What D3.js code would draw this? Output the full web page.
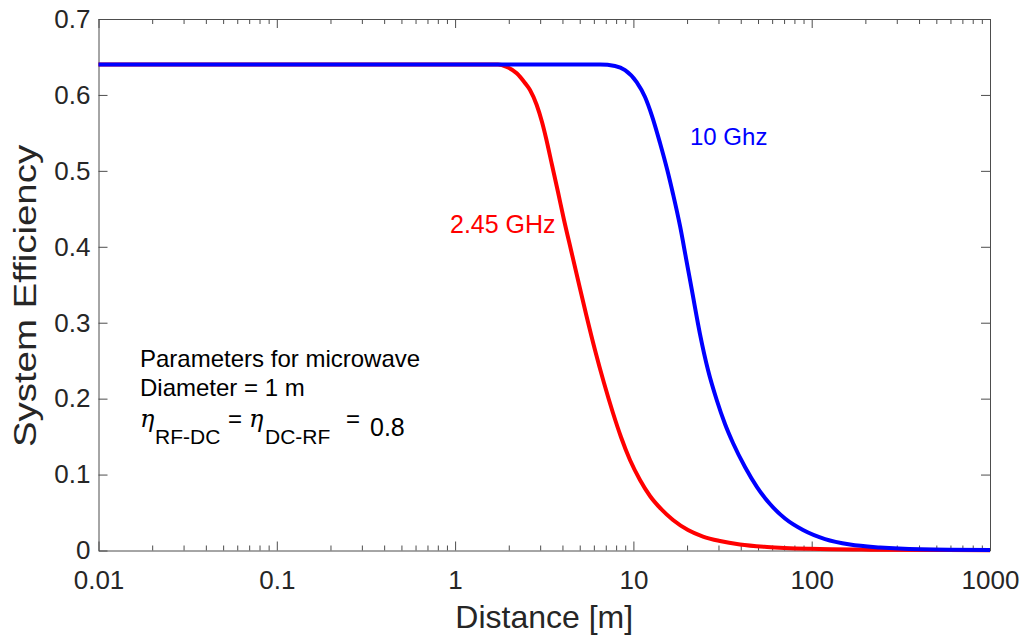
<!DOCTYPE html>
<html>
<head>
<meta charset="utf-8">
<script src="https://cdn.jsdelivr.net/npm/d3@7"></script>
<style>
  html, body { margin: 0; padding: 0; background: #ffffff; }
  svg { display: block; font-family: "Liberation Sans", Arial, Helvetica, sans-serif; }
</style>
</head>
<body>
<svg id="chart" width="1025" height="636"></svg>
<script>
// Distance [m] and system efficiency for the two carrier frequencies
const distance245 = [0.01, 1.74, 1.93, 2.216, 2.466, 2.631, 2.869, 3.072, 3.235, 3.496, 3.777, 4.082, 4.467, 4.89, 5.424, 6.089, 6.842, 7.683, 8.518, 9.57, 10.89, 12.39, 14.29, 16.68, 20.24, 24.57, 30.59, 39.62, 56.15, 97.8, 212.3, 1000];
const efficiency245 = [0.64, 0.64, 0.6374, 0.6285, 0.6157, 0.6065, 0.5867, 0.5643, 0.5433, 0.5077, 0.4721, 0.4353, 0.3958, 0.3563, 0.3115, 0.2641, 0.2206, 0.1811, 0.1495, 0.1192, 0.0929, 0.0718, 0.0547, 0.0402, 0.027, 0.0184, 0.0125, 0.0079, 0.0046, 0.0022, 0.0011, 0.0004];

const distance10 = [0.01, 6.5, 7.885, 8.973, 10.43, 11.62, 12.72, 14.1, 15.44, 16.68, 18.26, 19.72, 21.32, 23.63, 26.21, 29.33, 32.64, 36.19, 42.26, 49.35, 58.37, 70.85, 89.39, 118.8, 164.0, 241.6, 405.1, 1000];
const efficiency10 = [0.64, 0.64, 0.6381, 0.6328, 0.617, 0.5973, 0.5722, 0.5367, 0.5024, 0.4695, 0.4274, 0.3852, 0.3418, 0.2851, 0.2377, 0.1982, 0.1666, 0.1416, 0.11, 0.0836, 0.0612, 0.0421, 0.027, 0.0151, 0.0079, 0.004, 0.0017, 0.0008];

const xMajorTicks = [0.01, 0.1, 1, 10, 100, 1000];
const xTickLabels = ["0.01", "0.1", "1", "10", "100", "1000"];
const yTicks = [0, 0.1, 0.2, 0.3, 0.4, 0.5, 0.6, 0.7];
const yTickLabels = ["0", "0.1", "0.2", "0.3", "0.4", "0.5", "0.6", "0.7"];

const seriesNames = ["2.45 GHz", "10 Ghz"];
const seriesColors = ["#ff0000", "#0000ff"];

const plot = { left: 98.5, right: 990, top: 19, bottom: 550.5 };

const svg = d3.select("#chart");

const x = d3.scaleLog().domain([0.01, 1000]).range([plot.left, plot.right]);
const y = d3.scaleLinear().domain([0, 0.7]).range([plot.bottom, plot.top]);

// minor ticks: 2..9 inside each decade
const xMinorTicks = [];
for (let e = -2; e < 3; e++) {
  for (let m = 2; m <= 9; m++) xMinorTicks.push(m * Math.pow(10, e));
}

const axisColor = "#4d4d4d";
const textColor = "#262626";

function styleAxis(g) {
  g.select(".domain").attr("stroke", axisColor).attr("stroke-width", 1);
  g.selectAll(".tick line").attr("stroke", axisColor).attr("stroke-width", 1);
  g.selectAll(".tick text").attr("fill", textColor);
}

// bottom axis with labels
const labelMap = new Map(xMajorTicks.map((v, i) => [v, xTickLabels[i]]));
svg.append("g")
  .attr("transform", `translate(0,${plot.bottom})`)
  .call(d3.axisBottom(x).tickValues(xMajorTicks).tickFormat(d => labelMap.get(d))
    .tickSizeInner(-9).tickSizeOuter(0).tickPadding(20))
  .call(styleAxis)
  .call(g => g.selectAll(".tick text").attr("font-size", 26).attr("font-family", "Liberation Sans, Arial, sans-serif"));

svg.append("g")
  .attr("transform", `translate(0,${plot.bottom})`)
  .call(d3.axisBottom(x).tickValues(xMinorTicks).tickFormat("").tickSizeInner(-5).tickSizeOuter(0))
  .call(styleAxis)
  .call(g => g.select(".domain").remove());

// top axis (box)
svg.append("g")
  .attr("transform", `translate(0,${plot.top})`)
  .call(d3.axisTop(x).tickValues(xMajorTicks).tickFormat("").tickSizeInner(-9).tickSizeOuter(0))
  .call(styleAxis);

svg.append("g")
  .attr("transform", `translate(0,${plot.top})`)
  .call(d3.axisTop(x).tickValues(xMinorTicks).tickFormat("").tickSizeInner(-5).tickSizeOuter(0))
  .call(styleAxis)
  .call(g => g.select(".domain").remove());

// left axis with labels
const yLabelMap = new Map(yTicks.map((v, i) => [v, yTickLabels[i]]));
svg.append("g")
  .attr("transform", `translate(${plot.left},0)`)
  .call(d3.axisLeft(y).tickValues(yTicks).tickFormat(d => yLabelMap.get(d))
    .tickSizeInner(-9).tickSizeOuter(0).tickPadding(8))
  .call(styleAxis)
  .call(g => g.selectAll(".tick text").attr("font-size", 26).attr("font-family", "Liberation Sans, Arial, sans-serif"));

// right axis (box)
svg.append("g")
  .attr("transform", `translate(${plot.right},0)`)
  .call(d3.axisRight(y).tickValues(yTicks).tickFormat("").tickSizeInner(-9).tickSizeOuter(0))
  .call(styleAxis);

// axis titles
svg.append("text")
  .attr("x", (plot.left + plot.right) / 2)
  .attr("y", 628)
  .attr("text-anchor", "middle")
  .attr("font-size", 32)
  .attr("fill", textColor)
  .text("Distance [m]");

svg.append("text")
  .attr("transform", `translate(36,296) rotate(-90) scale(1.2,1)`)
  .attr("text-anchor", "middle")
  .attr("font-size", 32)
  .attr("fill", textColor)
  .text("System Efficiency");

// efficiency curves
const line = d3.line()
  .x(d => x(d[0]))
  .y(d => y(d[1]))
  .curve(d3.curveMonotoneX);

const series = [
  d3.zip(distance245, efficiency245),
  d3.zip(distance10, efficiency10)
];

svg.append("g")
  .selectAll("path")
  .data(series)
  .join("path")
  .attr("d", line)
  .attr("fill", "none")
  .attr("stroke", (d, i) => seriesColors[i])
  .attr("stroke-width", 4)
  .attr("stroke-linejoin", "round");

// curve labels
svg.append("text")
  .attr("x", 450).attr("y", 233)
  .attr("font-size", 25)
  .attr("fill", seriesColors[0])
  .text(seriesNames[0]);

svg.append("text")
  .attr("x", 690).attr("y", 145)
  .attr("font-size", 24)
  .attr("fill", seriesColors[1])
  .text(seriesNames[1]);

// parameter notes
const notes = svg.append("g").attr("fill", "#000000").attr("font-size", 24);
notes.append("text").attr("x", 140).attr("y", 367).text("Parameters for microwave");
notes.append("text").attr("x", 140).attr("y", 396).text("Diameter = 1 m");

const eta = notes.append("text").attr("x", 140).attr("y", 427);
eta.append("tspan").attr("font-family", "DejaVu Serif, serif").attr("font-style", "italic").attr("font-size", 24).text("η");
eta.append("tspan").attr("x", 155).attr("dy", 17).attr("font-size", 21).text("RF-DC");
eta.append("tspan").attr("x", 228).attr("dy", -17).text("=");
eta.append("tspan").attr("x", 249).attr("font-family", "DejaVu Serif, serif").attr("font-style", "italic").attr("font-size", 24).text("η");
eta.append("tspan").attr("x", 265).attr("dy", 17).attr("font-size", 21).text("DC-RF");
eta.append("tspan").attr("x", 346).attr("dy", -17).text("=");
eta.append("tspan").attr("x", 370).attr("dy", 9).attr("font-size", 25).text("0.8");
</script>
</body>
</html>
